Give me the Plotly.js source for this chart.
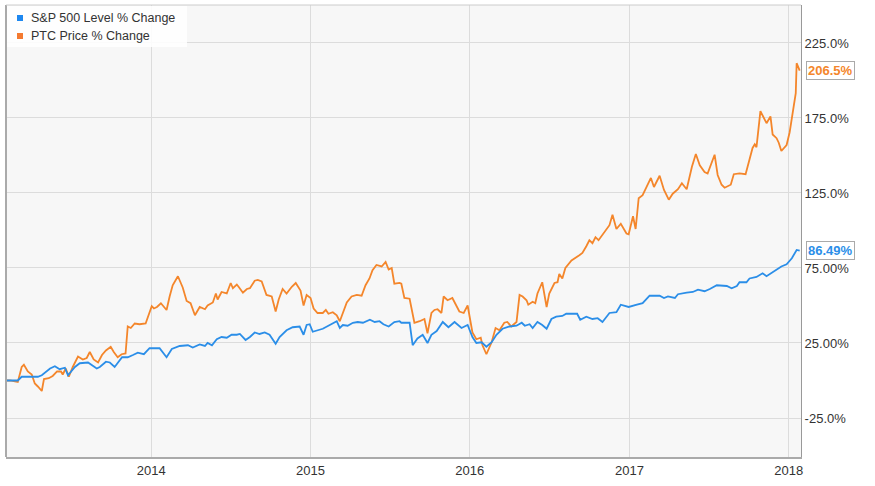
<!DOCTYPE html>
<html>
<head>
<meta charset="utf-8">
<script src="https://cdn.plot.ly/plotly-3.0.1.min.js"></script>
<style>
html,body{margin:0;padding:0;background:#fff;}
#chart{width:875px;height:486px;}
</style>
</head>
<body>
<div id="chart"></div>
<script>
const spxName = "S&P 500 Level % Change";
const ptcName = "PTC Price % Change";

const spxDates = ["2013-02-04","2013-03-01","2013-03-10","2013-04-16","2013-04-25","2013-05-14","2013-05-25","2013-06-05","2013-06-17","2013-06-24","2013-07-10","2013-07-21","2013-08-09","2013-08-29","2013-09-05","2013-09-19","2013-09-28","2013-10-09","2013-10-26","2013-11-08","2013-11-20","2013-12-01","2013-12-15","2013-12-28",
"2014-01-20","2014-02-05","2014-02-17","2014-03-07","2014-03-26","2014-04-06","2014-04-22","2014-05-04","2014-05-10","2014-05-20","2014-05-31","2014-06-11","2014-06-23","2014-07-04","2014-07-16","2014-07-23","2014-08-05","2014-08-15","2014-08-26","2014-09-06","2014-09-18","2014-09-29","2014-10-13","2014-10-22","2014-11-07","2014-11-21","2014-12-07","2014-12-16","2014-12-23","2014-12-30",
"2015-01-06","2015-01-17","2015-01-29","2015-02-14","2015-03-02","2015-03-09","2015-03-16","2015-03-27","2015-04-08","2015-04-19","2015-05-01","2015-05-17","2015-05-28","2015-06-08","2015-06-17","2015-06-29","2015-07-12","2015-07-24","2015-07-28","2015-08-16","2015-08-23","2015-09-03","2015-09-15","2015-09-26","2015-10-05","2015-10-17","2015-10-31","2015-11-13","2015-11-27","2015-12-13","2015-12-27",
"2016-01-07","2016-01-16","2016-01-28","2016-02-08","2016-02-20","2016-03-02","2016-03-16","2016-04-01","2016-04-17","2016-04-29","2016-05-06","2016-05-17","2016-05-24","2016-06-04","2016-06-15","2016-06-25","2016-07-06","2016-07-17","2016-07-31","2016-08-09","2016-09-03","2016-09-10","2016-09-24","2016-10-08","2016-10-20","2016-10-31","2016-11-16","2016-12-02","2016-12-12","2016-12-30",
"2017-01-18","2017-01-31","2017-02-16","2017-03-11","2017-03-21","2017-03-30","2017-04-15","2017-04-22","2017-05-12","2017-05-26","2017-06-07","2017-06-22","2017-07-04","2017-07-20","2017-08-12","2017-08-23","2017-09-04","2017-09-10","2017-09-26","2017-10-03","2017-10-19","2017-11-02","2017-11-11","2017-11-23","2017-12-04","2017-12-15","2017-12-27",
"2018-01-08","2018-01-19","2018-01-26"];
const spxValues = [0,0,2.5,2.5,3.5,8,9.5,7.5,8.5,3.5,9,11.5,12,8,9,12.5,12,9,15.5,15.5,17,18.5,17.5,21.5,
21.5,15.5,21,23,23.5,22,24,23,25,23.5,27.5,29,28.5,30.5,30.5,31,27,29,32,31,32,30.5,24.5,29,33.5,35.5,36,30.5,37,37.5,
32.5,33.5,34.5,37,39.5,35,37,36.5,38.5,39,38.5,40.5,39,39.5,37.5,36,39,39.5,38.5,38.5,23.5,28,30.5,25,30.5,33,39,35.5,39,35,37,
29,25,25.5,22.5,25.5,30.5,34.5,36,36.5,38.5,36.5,37.5,35,39,37,34.5,41,42.5,43,44.5,44.5,40.5,42.5,41,41.5,39,45,45.5,50.5,49,
50.5,51.5,56.5,56.5,55,56,55,57.5,58.5,59,60.5,59.5,61,63.5,63,61.5,63,65.5,65.5,68,69,71.5,69.5,72,74,76,77.5,
81.5,87,86.49];

const ptcDates = ["2013-02-04","2013-02-11","2013-03-01","2013-03-10","2013-03-15","2013-03-24","2013-04-02","2013-04-09","2013-04-16","2013-04-25","2013-04-30","2013-05-11","2013-05-20","2013-05-30","2013-06-08","2013-06-12","2013-06-19","2013-06-26","2013-07-05","2013-07-17","2013-07-28","2013-08-06","2013-08-13","2013-08-22","2013-09-01","2013-09-10","2013-09-19","2013-09-30","2013-10-07","2013-10-16","2013-10-25","2013-11-03","2013-11-08","2013-11-15","2013-11-24","2013-12-05","2013-12-19",
"2014-01-02","2014-01-07","2014-01-14","2014-01-23","2014-02-05","2014-02-12","2014-02-19","2014-03-03","2014-03-14","2014-03-23","2014-04-01","2014-04-11","2014-04-22","2014-05-04","2014-05-10","2014-05-22","2014-05-29","2014-06-02","2014-06-11","2014-06-23","2014-07-02","2014-07-07","2014-07-16","2014-07-20","2014-07-30","2014-08-08","2014-08-15","2014-08-26","2014-09-02","2014-09-11","2014-09-22","2014-10-04","2014-10-13","2014-10-20","2014-10-29","2014-11-07","2014-11-19","2014-11-28","2014-12-09","2014-12-16","2014-12-23",
"2015-01-01","2015-01-08","2015-01-17","2015-01-29","2015-02-05","2015-02-11","2015-02-21","2015-03-02","2015-03-09","2015-03-16","2015-03-25","2015-04-05","2015-04-17","2015-04-28","2015-05-07","2015-05-16","2015-05-23","2015-06-01","2015-06-13","2015-06-22","2015-06-29","2015-07-06","2015-07-12","2015-07-24","2015-07-28","2015-08-04","2015-08-16","2015-08-27","2015-09-08","2015-09-19","2015-09-26","2015-10-05","2015-10-12","2015-10-19","2015-10-28","2015-11-02","2015-11-11","2015-11-22","2015-12-08","2015-12-18","2015-12-27",
"2016-01-07","2016-01-16","2016-01-26","2016-01-30","2016-02-08","2016-02-20","2016-02-29","2016-03-09","2016-03-20","2016-03-27","2016-04-05","2016-04-17","2016-04-24","2016-05-01","2016-05-10","2016-05-14","2016-05-24","2016-05-30","2016-06-04","2016-06-15","2016-06-25","2016-07-01","2016-07-13","2016-07-20","2016-07-24","2016-07-31","2016-08-07","2016-08-21","2016-09-08","2016-09-15","2016-09-24","2016-10-01","2016-10-08","2016-10-15","2016-10-22","2016-10-31","2016-11-16","2016-11-23","2016-12-02","2016-12-12","2016-12-25","2016-12-30",
"2017-01-09","2017-01-15","2017-01-22","2017-01-31","2017-02-10","2017-02-19","2017-02-26","2017-03-11","2017-03-21","2017-04-01","2017-04-10","2017-04-22","2017-05-01","2017-05-12","2017-05-24","2017-06-02","2017-06-11","2017-06-22","2017-06-29","2017-07-11","2017-07-15","2017-07-22","2017-07-31","2017-08-07","2017-08-21","2017-08-28","2017-09-10","2017-09-24","2017-09-29","2017-10-10","2017-10-15","2017-10-19","2017-10-28","2017-11-04","2017-11-11","2017-11-20","2017-11-25","2017-12-04","2017-12-09","2017-12-15","2017-12-27",
"2018-01-03","2018-01-12","2018-01-17","2018-01-19","2018-01-26"];
const ptcValues = [0,0,-1,9,10.5,6,4,-2,-4,-7,1,1.5,3,6,6,4,8,2.5,9,16,14,15,19,14,12,17,20,22.5,19,15.5,17.5,18,36,35,38,37.5,38,
49.5,48,49,51.5,47,56,63.5,69.5,62,53,51.5,43.5,49,47.5,50,52,58,54,59,58,65,61.5,64,62.5,58.5,61,61.5,66.5,67,66,57,56,46,54,61,58,62.5,65,60,50,57,
55,48,45,45,47,44.5,45.5,43.5,39.5,45.5,52,56,57,56.5,63.5,68,73.5,77,76,79,74,75,64.5,65,64.5,55,54.5,38.5,39.5,41,31.5,45,47,47.5,45,56,53.5,55,46,45,50,
32,27.5,28.5,23.5,17.5,25.5,35,33.5,38.5,39,36,39,57,56,53.5,50.5,52.5,51.5,58,65.5,49,58,65,65.5,71,68,75,80,83.5,85,89.5,93.5,91.5,95.5,93.5,97,103.5,110.5,101,104.5,98,97.5,
109.5,101,121.5,123.5,129,135,129,136.5,127,120.5,124.5,127.5,131.5,127.5,142.5,151,143.5,139,138,147,150.5,137,130.5,128.5,130.5,137.5,138,137.5,142.5,155,157.5,155.5,179.5,175.5,171.5,176,164,161.5,158.5,153,157,
165.5,182,191.5,211.5,206.5];

const yTickVals = [-25, 25, 75, 125, 175, 225];
const yTickText = ["-25.0%", "25.00%", "75.00%", "125.0%", "175.0%", "225.0%"];
const xTickVals = ["2014-01-01","2015-01-01","2016-01-01","2017-01-01","2018-01-01"];
const xTickText = ["2014","2015","2016","2017","2018"];

const blue = "#2b8ee8";
const orange = "#f4862b";
const legendBlue = "#1e88f0";
const legendOrange = "#f47a30";
const font = "Liberation Sans, Arial, sans-serif";

const traces = [
  {x: ptcDates, y: ptcValues, type: "scatter", mode: "lines", name: ptcName, line: {color: orange, width: 1.8}, hoverinfo: "skip"},
  {x: spxDates, y: spxValues, type: "scatter", mode: "lines", name: spxName, line: {color: blue, width: 1.8}, hoverinfo: "skip"}
];

const lastP = ptcValues[ptcValues.length - 1];
const lastS = spxValues[spxValues.length - 1];

// plot area pixel helpers for legend placement (paper fractions)
const W = 795, H = 452;
const px = v => v / W;
const py = v => 1 - v / H;

const layout = {
  width: 875, height: 486,
  margin: {l: 6, r: 74, t: 5, b: 29},
  paper_bgcolor: "#ffffff",
  plot_bgcolor: "#f7f7f7",
  font: {family: font, size: 13, color: "#333333"},
  showlegend: false,
  xaxis: {
    type: "date", range: ["2013-02-02", "2018-01-29"],
    tickvals: xTickVals, ticktext: xTickText,
    showgrid: true, gridcolor: "#dcdcdc", gridwidth: 1,
    showline: true, linecolor: "#aaaaaa", linewidth: 2, mirror: false,
    ticks: "", zeroline: false,
    tickfont: {family: font, size: 13, color: "#333"}
  },
  yaxis: {
    side: "right", range: [-51, 250.3],
    tickvals: yTickVals, ticktext: yTickText,
    showgrid: true, gridcolor: "#dcdcdc", gridwidth: 1,
    showline: true, linecolor: "#999999", linewidth: 1,
    ticks: "", zeroline: false,
    tickfont: {family: font, size: 13, color: "#333"}
  },
  shapes: [
    {type: "line", xref: "paper", yref: "paper", x0: 0, x1: 0, y0: 0, y1: 1, line: {color: "#aaaaaa", width: 2}},
    {type: "line", xref: "paper", yref: "paper", x0: 0, x1: 1, y0: 1, y1: 1, line: {color: "#cccccc", width: 1}},
    {type: "rect", xref: "paper", yref: "paper", x0: px(1), x1: px(181), y0: py(42), y1: py(1), fillcolor: "rgba(255,255,255,0.88)", line: {width: 0}},
    {type: "rect", xref: "paper", yref: "paper", x0: px(11), x1: px(17), y0: py(16), y1: py(10), fillcolor: legendBlue, line: {width: 0}},
    {type: "rect", xref: "paper", yref: "paper", x0: px(11), x1: px(17), y0: py(34), y1: py(28), fillcolor: legendOrange, line: {width: 0}}
  ],
  annotations: [
    {xref: "paper", yref: "paper", x: px(23), y: py(13), text: spxName, showarrow: false, xanchor: "left", yanchor: "middle",
     font: {family: font, size: 12.5, color: "#333"}},
    {xref: "paper", yref: "paper", x: px(23), y: py(31), text: ptcName, showarrow: false, xanchor: "left", yanchor: "middle",
     font: {family: font, size: 12.5, color: "#333"}},
    {x: ptcDates[ptcDates.length - 1], y: lastP, xref: "x", yref: "y", text: "<b>" + lastP.toFixed(1) + "%</b>",
     showarrow: false, xanchor: "left", yanchor: "middle", xshift: 6,
     font: {family: font, size: 13, color: orange}, bgcolor: "#ffffff", bordercolor: "#aaaaaa", borderwidth: 1, borderpad: 1},
    {x: spxDates[spxDates.length - 1], y: lastS, xref: "x", yref: "y", text: "<b>" + lastS.toFixed(2) + "%</b>",
     showarrow: false, xanchor: "left", yanchor: "middle", xshift: 6,
     font: {family: font, size: 13, color: blue}, bgcolor: "#ffffff", bordercolor: "#aaaaaa", borderwidth: 1, borderpad: 1}
  ]
};

Plotly.newPlot("chart", traces, layout, {displayModeBar: false, staticPlot: true});
</script>
</body>
</html>
